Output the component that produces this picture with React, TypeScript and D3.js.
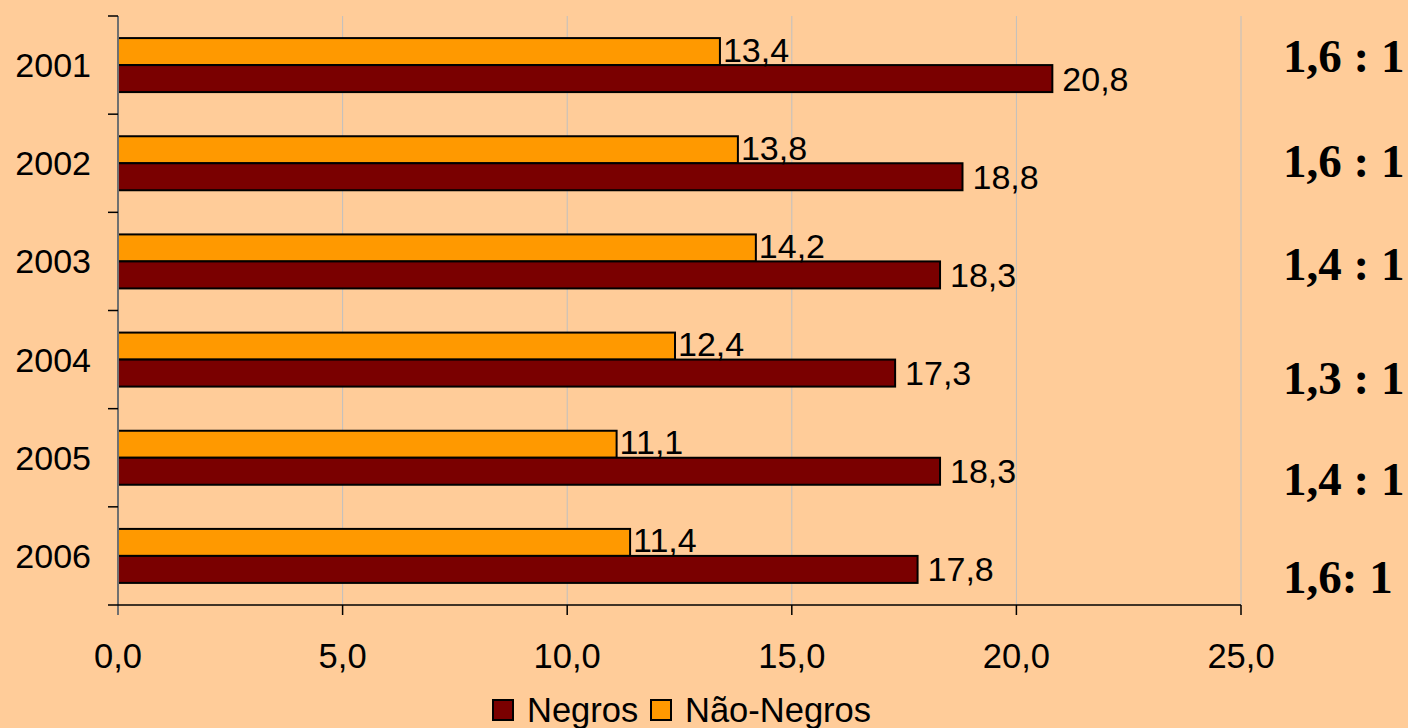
import React, { useEffect, useRef } from "react";
import * as d3 from "d3";

const years = ["2001", "2002", "2003", "2004", "2005", "2006"];
const negros = [20.8, 18.8, 18.3, 17.3, 18.3, 17.8];
const naoNegros = [13.4, 13.8, 14.2, 12.4, 11.1, 11.4];
const ratios = ["1,6 : 1", "1,6 : 1", "1,4 : 1", "1,3 : 1", "1,4 : 1", "1,6: 1"];
const xTicks = [0, 5, 10, 15, 20, 25];

// baseline offsets of the ratio notes from each band centre
const ratioOffset = [7, 14, 19, 34, 37, 37];

const width = 1408;
const height = 728;
const margin = { top: 16, right: 167, bottom: 123, left: 118 };

const fmt = (v: number) => d3.format(".1f")(v).replace(".", ",");

export default function App() {
  const ref = useRef<SVGSVGElement>(null);

  useEffect(() => {
    const svg = d3.select(ref.current);
    svg.selectAll("*").remove();

    svg.append("rect").attr("width", width).attr("height", height).attr("fill", "#FFCC99");

    const x = d3.scaleLinear().domain([0, 25]).range([margin.left, width - margin.right]);
    const y = d3.scaleBand().domain(years).range([margin.top, height - margin.bottom]);
    const barH = 27;
    const font = "Arial, 'Liberation Sans', sans-serif";

    // grid
    svg.append("g")
      .selectAll("line")
      .data(xTicks.slice(1))
      .enter()
      .append("line")
      .attr("x1", d => x(d))
      .attr("x2", d => x(d))
      .attr("y1", margin.top)
      .attr("y2", height - margin.bottom)
      .attr("stroke", "#c0c0c0")
      .attr("stroke-width", 1);

    const rows = svg.append("g")
      .selectAll("g")
      .data(years)
      .enter()
      .append("g");

    rows.append("rect")
      .attr("x", x(0))
      .attr("y", d => y(d)! + y.bandwidth() / 2 - barH)
      .attr("width", (d, i) => x(naoNegros[i]) - x(0))
      .attr("height", barH)
      .attr("fill", "#FF9900")
      .attr("stroke", "#000")
      .attr("stroke-width", 2);

    rows.append("rect")
      .attr("x", x(0))
      .attr("y", d => y(d)! + y.bandwidth() / 2)
      .attr("width", (d, i) => x(negros[i]) - x(0))
      .attr("height", barH)
      .attr("fill", "#7A0000")
      .attr("stroke", "#000")
      .attr("stroke-width", 2);

    rows.append("text")
      .attr("x", (d, i) => x(naoNegros[i]) + 3)
      .attr("y", d => y(d)! + y.bandwidth() / 2 - barH / 2 - 2)
      .attr("dominant-baseline", "central")
      .attr("font-family", font)
      .attr("font-size", 34)
      .text((d, i) => fmt(naoNegros[i]));

    rows.append("text")
      .attr("x", (d, i) => x(negros[i]) + 10)
      .attr("y", d => y(d)! + y.bandwidth() / 2 + barH / 2)
      .attr("dominant-baseline", "central")
      .attr("font-family", font)
      .attr("font-size", 34)
      .text((d, i) => fmt(negros[i]));

    // ratio notes
    rows.append("text")
      .attr("x", 1283)
      .attr("y", (d, i) => y(d)! + y.bandwidth() / 2 + ratioOffset[i])
      .attr("font-family", "'Times New Roman', 'Liberation Serif', serif")
      .attr("font-weight", "bold")
      .attr("font-size", 47)
      .text((d, i) => ratios[i]);

    // y axis
    const yAxis = svg.append("g");
    yAxis.append("line")
      .attr("x1", x(0)).attr("x2", x(0))
      .attr("y1", margin.top).attr("y2", height - margin.bottom + 10)
      .attr("stroke", "#707070").attr("stroke-width", 2);
    const yEdges = years.map(d => y(d)!).concat([height - margin.bottom]);
    yAxis.selectAll(".tk")
      .data(yEdges)
      .enter()
      .append("line")
      .attr("x1", x(0) - 10).attr("x2", x(0))
      .attr("y1", d => d).attr("y2", d => d)
      .attr("stroke", "#000").attr("stroke-width", 1.5);
    yAxis.selectAll("text")
      .data(years)
      .enter()
      .append("text")
      .attr("x", 91)
      .attr("y", d => y(d)! + y.bandwidth() / 2)
      .attr("text-anchor", "end")
      .attr("dominant-baseline", "central")
      .attr("font-family", font)
      .attr("font-size", 34)
      .text(d => d);

    // x axis
    const axisY = height - margin.bottom;
    const xAxis = svg.append("g");
    xAxis.append("line")
      .attr("x1", x(0)).attr("x2", x(25))
      .attr("y1", axisY).attr("y2", axisY)
      .attr("stroke", "#000").attr("stroke-width", 1.5);
    xAxis.selectAll(".tk")
      .data(xTicks.slice(1))
      .enter()
      .append("line")
      .attr("x1", d => x(d)).attr("x2", d => x(d))
      .attr("y1", axisY).attr("y2", axisY + 10)
      .attr("stroke", "#000").attr("stroke-width", 1.5);
    xAxis.selectAll("text")
      .data(xTicks)
      .enter()
      .append("text")
      .attr("x", d => x(d))
      .attr("y", 668)
      .attr("text-anchor", "middle")
      .attr("font-family", font)
      .attr("font-size", 34.5)
      .text(d => fmt(d));

    // legend
    const legend = [
      { label: "Negros", color: "#7A0000", x: 493 },
      { label: "Não-Negros", color: "#FF9900", x: 651 },
    ];
    const lg = svg.append("g").selectAll("g").data(legend).enter().append("g");
    lg.append("rect")
      .attr("x", d => d.x).attr("y", 700)
      .attr("width", 20).attr("height", 20)
      .attr("fill", d => d.color)
      .attr("stroke", "#000").attr("stroke-width", 2);
    lg.append("text")
      .attr("x", d => d.x + 34)
      .attr("y", 722)
      .attr("font-family", font)
      .attr("font-size", 34.5)
      .text(d => d.label);
  }, []);

  return (
    <svg
      ref={ref}
      width={width}
      height={height}
      style={{ position: "absolute", left: 0, top: 0, display: "block" }}
    />
  );
}
